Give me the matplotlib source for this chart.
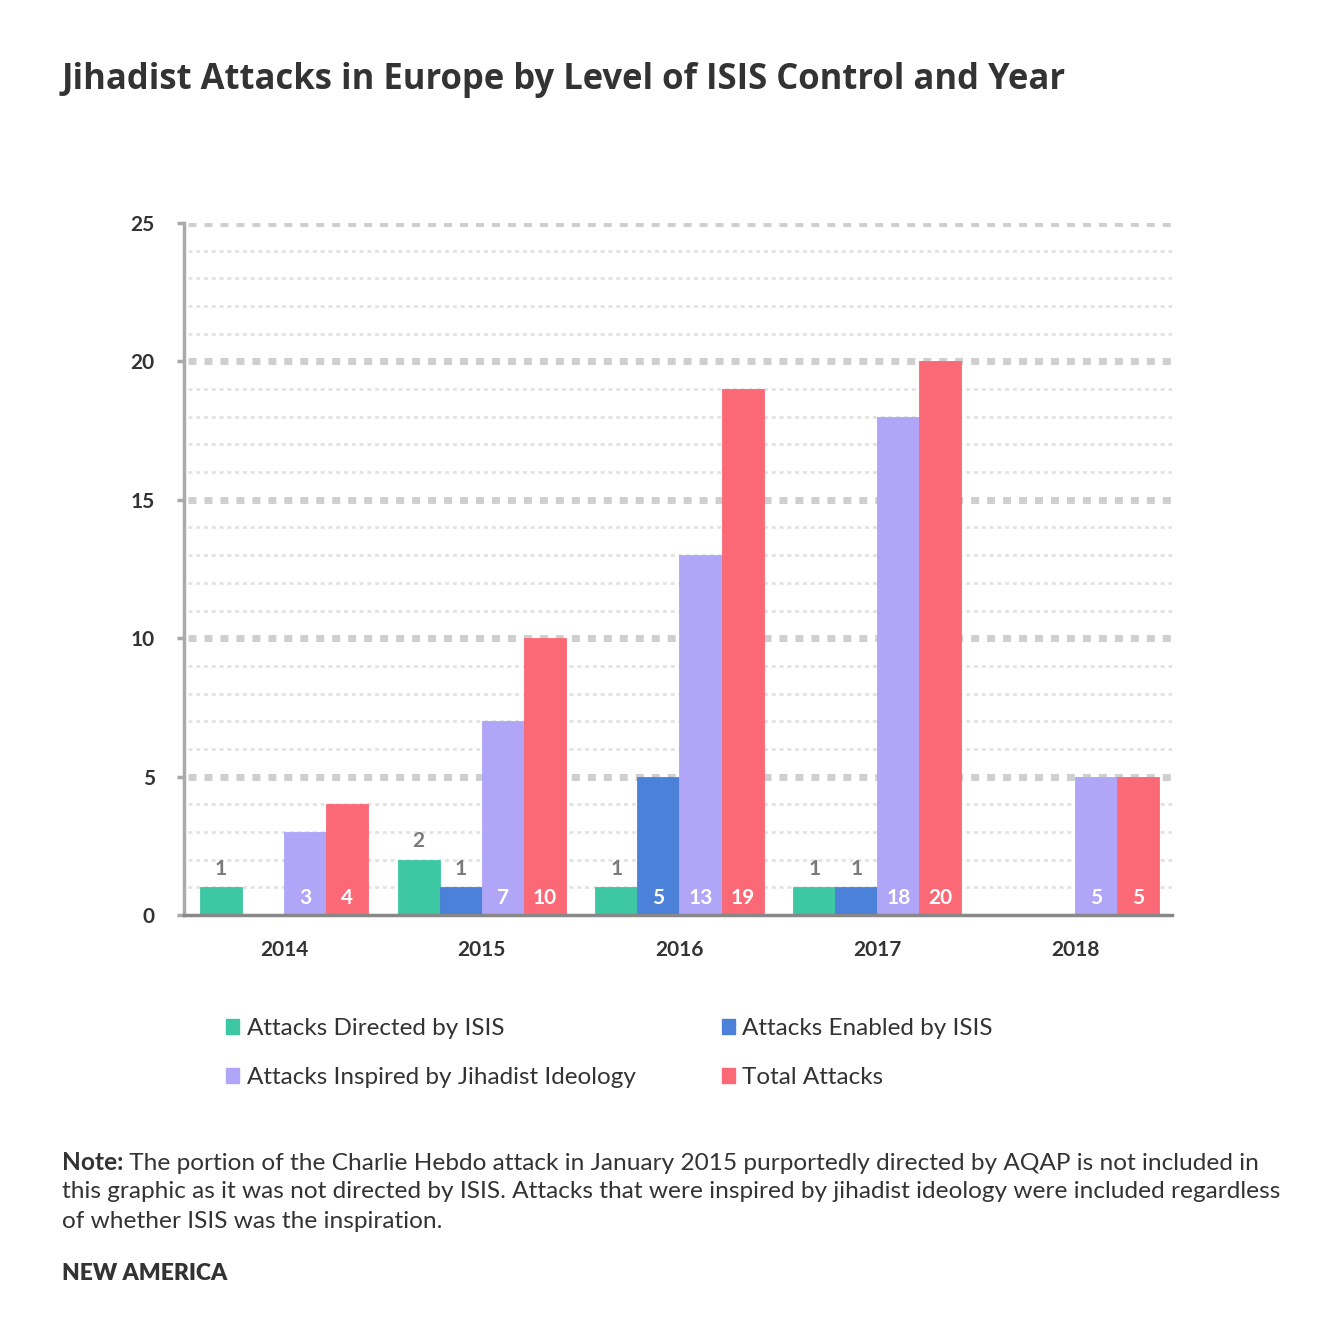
import matplotlib
matplotlib.use("Agg")
import matplotlib.pyplot as plt
import numpy as np
from matplotlib.patches import Patch

years = ["2014", "2015", "2016", "2017", "2018"]
series_names = ["Attacks Directed by ISIS", "Attacks Enabled by ISIS",
                "Attacks Inspired by Jihadist Ideology", "Total Attacks"]
directed = [1, 2, 1, 1, 0]
enabled = [0, 1, 5, 1, 0]
inspired = [3, 7, 13, 18, 5]
total = [4, 10, 19, 20, 5]
colors = ["#3ec7a3", "#4b81d8", "#b0a5f7", "#fb6876"]
yticks = [0, 5, 10, 15, 20, 25]

title = "Jihadist Attacks in Europe by Level of ISIS Control and Year"
note_bold = "Note:"
note_lines = [
    " The portion of the Charlie Hebdo attack in January 2015 purportedly directed by AQAP is not included in",
    "this graphic as it was not directed by ISIS. Attacks that were inspired by jihadist ideology were included regardless",
    "of whether ISIS was the inspiration.",
]
source = "NEW AMERICA"

W = 1341
fig = plt.figure(figsize=(13.41, 13.41), dpi=100)
fig.patch.set_facecolor("white")
ax = fig.add_axes([184 / W, 1 - 915 / W, (1172 - 184) / W, (915 - 223) / W])

x = np.arange(len(years))
bw = 0.2125
data = [directed, enabled, inspired, total]
font = "Lato"
for i, (vals, c) in enumerate(zip(data, colors)):
    xs = x + (i - 1.5) * bw
    ax.bar(xs, vals, width=bw, color=c, edgecolor=c, linewidth=0.6, zorder=3)
    for xi, v in zip(xs, vals):
        if v == 0:
            continue
        if v >= 3:
            ax.text(xi, 0.6, str(v), ha="center", va="center", color="white",
                    fontsize=15, fontweight="bold", family=font, zorder=4)
        else:
            ax.text(xi, v + 0.3, str(v), ha="center", va="bottom", color="#7a7a7a",
                    fontsize=15, fontweight="bold", family=font, zorder=4)

ax.set_xlim(-0.505, 4.49)
ax.set_ylim(0, 25)
for yv in range(1, 26):
    if yv % 5 == 0:
        ax.axhline(yv, color="#cfcfcf", lw=5.0, dashes=(1.15, 1.15), zorder=1, xmin=0.004)
    else:
        ax.axhline(yv, color="#e2e2e2", lw=2.0, dashes=(1.4, 1.4), zorder=1, xmin=0.004)

ax.set_yticks(yticks)
ax.set_yticklabels([str(t) for t in yticks], family=font, fontsize=15, color="#333333",
                   fontweight="bold")
ax.set_xticks(x)
ax.set_xticklabels(years, family=font, fontsize=15, color="#333333", fontweight="bold")
ax.tick_params(axis="y", length=5, width=2.5, color="#aaaaaa", pad=16)
ax.tick_params(axis="x", length=0, pad=18)
for s in ["top", "right"]:
    ax.spines[s].set_visible(False)
ax.spines["left"].set_color("#aaaaaa")
ax.spines["left"].set_linewidth(2.5)
ax.spines["bottom"].set_color("#888888")
ax.spines["bottom"].set_linewidth(2.5)
ax.spines["left"].set_zorder(5)
ax.spines["bottom"].set_zorder(5)

fig.text(62 / W, 1 - 80 / W, title, ha="left", va="center", fontsize=24.9,
         fontweight="bold", family="Open Sans", color="#333333")

# legend (row-major order: Directed, Enabled / Inspired, Total)
handles = [Patch(facecolor=c, edgecolor=c) for c in colors]
order = [0, 2, 1, 3]
leg = fig.legend([handles[k] for k in order], [series_names[k] for k in order],
                 loc="upper left", bbox_to_anchor=(204 / W, 1 - 996 / W), ncol=2,
                 frameon=False, prop={"family": font, "size": 17.5},
                 handlelength=0.55, handleheight=0.55, handletextpad=0.3,
                 columnspacing=3.55, labelspacing=1.15)
for t in leg.get_texts():
    t.set_color("#333333")

ny = [1163, 1192, 1221]
fs = 17.55
t0 = fig.text(62 / W, 1 - ny[0] / W, note_bold, ha="left", va="center", fontsize=fs,
              fontweight="bold", family=font, color="#333333")
fig.canvas.draw()
bb = t0.get_window_extent()
fig.text(bb.x1 / W, 1 - ny[0] / W, note_lines[0], ha="left", va="center", fontsize=fs,
         family=font, color="#333333")
for yy, line in zip(ny[1:], note_lines[1:]):
    fig.text(62 / W, 1 - yy / W, line, ha="left", va="center", fontsize=fs,
             family=font, color="#333333")
fig.text(62 / W, 1 - 1273 / W, source, ha="left", va="center", fontsize=16.5,
         fontweight="heavy", family=font, color="#333333")

fig.savefig("out.png", dpi=100, facecolor="white")
